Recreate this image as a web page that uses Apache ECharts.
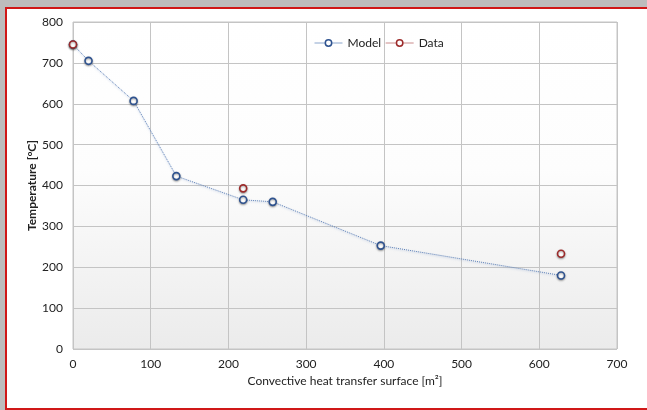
<!DOCTYPE html>
<html><head><meta charset="utf-8">
<script src="https://cdn.jsdelivr.net/npm/echarts@6/dist/echarts.min.js"></script>
<style>
html,body{margin:0;padding:0;background:#bdbdbd;width:647px;height:410px;overflow:hidden;}
#frame{position:absolute;left:5px;top:7px;width:660px;height:399px;border:2px solid #d01818;background:#fff;}
#chart{position:absolute;left:0;top:0;width:660px;height:399px;}
</style></head>
<body><div id="frame"><div id="chart"></div></div>
<script>
const modelX = [0, 20, 78, 133, 219, 257, 396, 628];
const modelY = [745, 705, 607, 423, 365, 360, 253, 180];
const dataX = [0, 219, 628];
const dataY = [745, 393, 233];
const xTicks = [0, 100, 200, 300, 400, 500, 600, 700];
const yTicks = [0, 100, 200, 300, 400, 500, 600, 700, 800];

const font = 'Lato,"Open Sans",sans-serif';
const chart = echarts.init(document.getElementById('chart'));
chart.setOption({
  animation: false,
  textStyle: {fontFamily: font},
  grid: {left: 66, right: 50, top: 13, bottom: 59, show: true, borderColor: '#c4c4c4', borderWidth: 1,
    backgroundColor: {type: 'linear', x: 0, y: 0, x2: 0, y2: 1, colorStops: [
      {offset: 0, color: '#ffffff'}, {offset: 0.45, color: '#fdfdfd'}, {offset: 1, color: '#ebebeb'}]}},
  legend: {top: 23, left: 302, itemWidth: 28, itemHeight: 8, itemGap: 4,
    textStyle: {fontSize: 12, color: '#222', fontFamily: font},
    data: [
      {name: 'Model', itemStyle: {color: '#fff', borderColor: '#2e528f', borderWidth: 1.5}, lineStyle: {color: '#8aa5cc', width: 1, opacity: 1, type: 'solid'}},
      {name: 'Data', itemStyle: {color: '#fff', borderColor: '#9c2a2a', borderWidth: 1.5}, lineStyle: {color: '#c98a8a', width: 1, opacity: 1, type: 'solid'}}
    ]},
  xAxis: {type: 'value', min: xTicks[0], max: xTicks[xTicks.length-1], interval: 100,
    name: 'Convective heat transfer surface [m²]', nameLocation: 'middle', nameGap: 26, nameMoveOverlap: false,
    nameTextStyle: {fontSize: 12, color: '#222', fontFamily: font},
    axisLine: {show: false}, axisTick: {show: false},
    axisLabel: {fontSize: 12, color: '#222', margin: 9, fontFamily: font},
    splitLine: {lineStyle: {color: '#c4c4c4', width: 1}}},
  yAxis: {type: 'value', min: yTicks[0], max: yTicks[yTicks.length-1], interval: 100,
    name: 'Temperature [°C]', nameLocation: 'middle', nameGap: 35, nameMoveOverlap: false,
    nameTextStyle: {fontSize: 12, color: '#222', fontWeight: 'bold', fontFamily: font},
    axisLine: {show: false}, axisTick: {show: false},
    axisLabel: {fontSize: 12, color: '#222', margin: 10, fontFamily: font},
    splitLine: {lineStyle: {color: '#c4c4c4', width: 1}}},
  series: [
    {name: 'Model', type: 'line', data: modelX.map((x, i) => [x, modelY[i]]),
      symbol: 'circle', symbolSize: 7,
      itemStyle: {color: '#fff', borderColor: '#2e528f', borderWidth: 1.6, shadowColor: 'rgba(0,0,0,0.35)', shadowBlur: 2, shadowOffsetY: 1},
      lineStyle: {color: '#5f82b8', width: 1, type: 'dotted', shadowColor: 'rgba(120,150,200,0.6)', shadowBlur: 2, shadowOffsetY: 1}},
    {name: 'Data', type: 'line', data: dataX.map((x, i) => [x, dataY[i]]),
      symbol: 'circle', symbolSize: 7, z: 3,
      itemStyle: {color: '#fff', borderColor: '#9c2a2a', borderWidth: 1.6, shadowColor: 'rgba(0,0,0,0.35)', shadowBlur: 2, shadowOffsetY: 1},
      lineStyle: {opacity: 0}}
  ]
});
</script></body></html>
